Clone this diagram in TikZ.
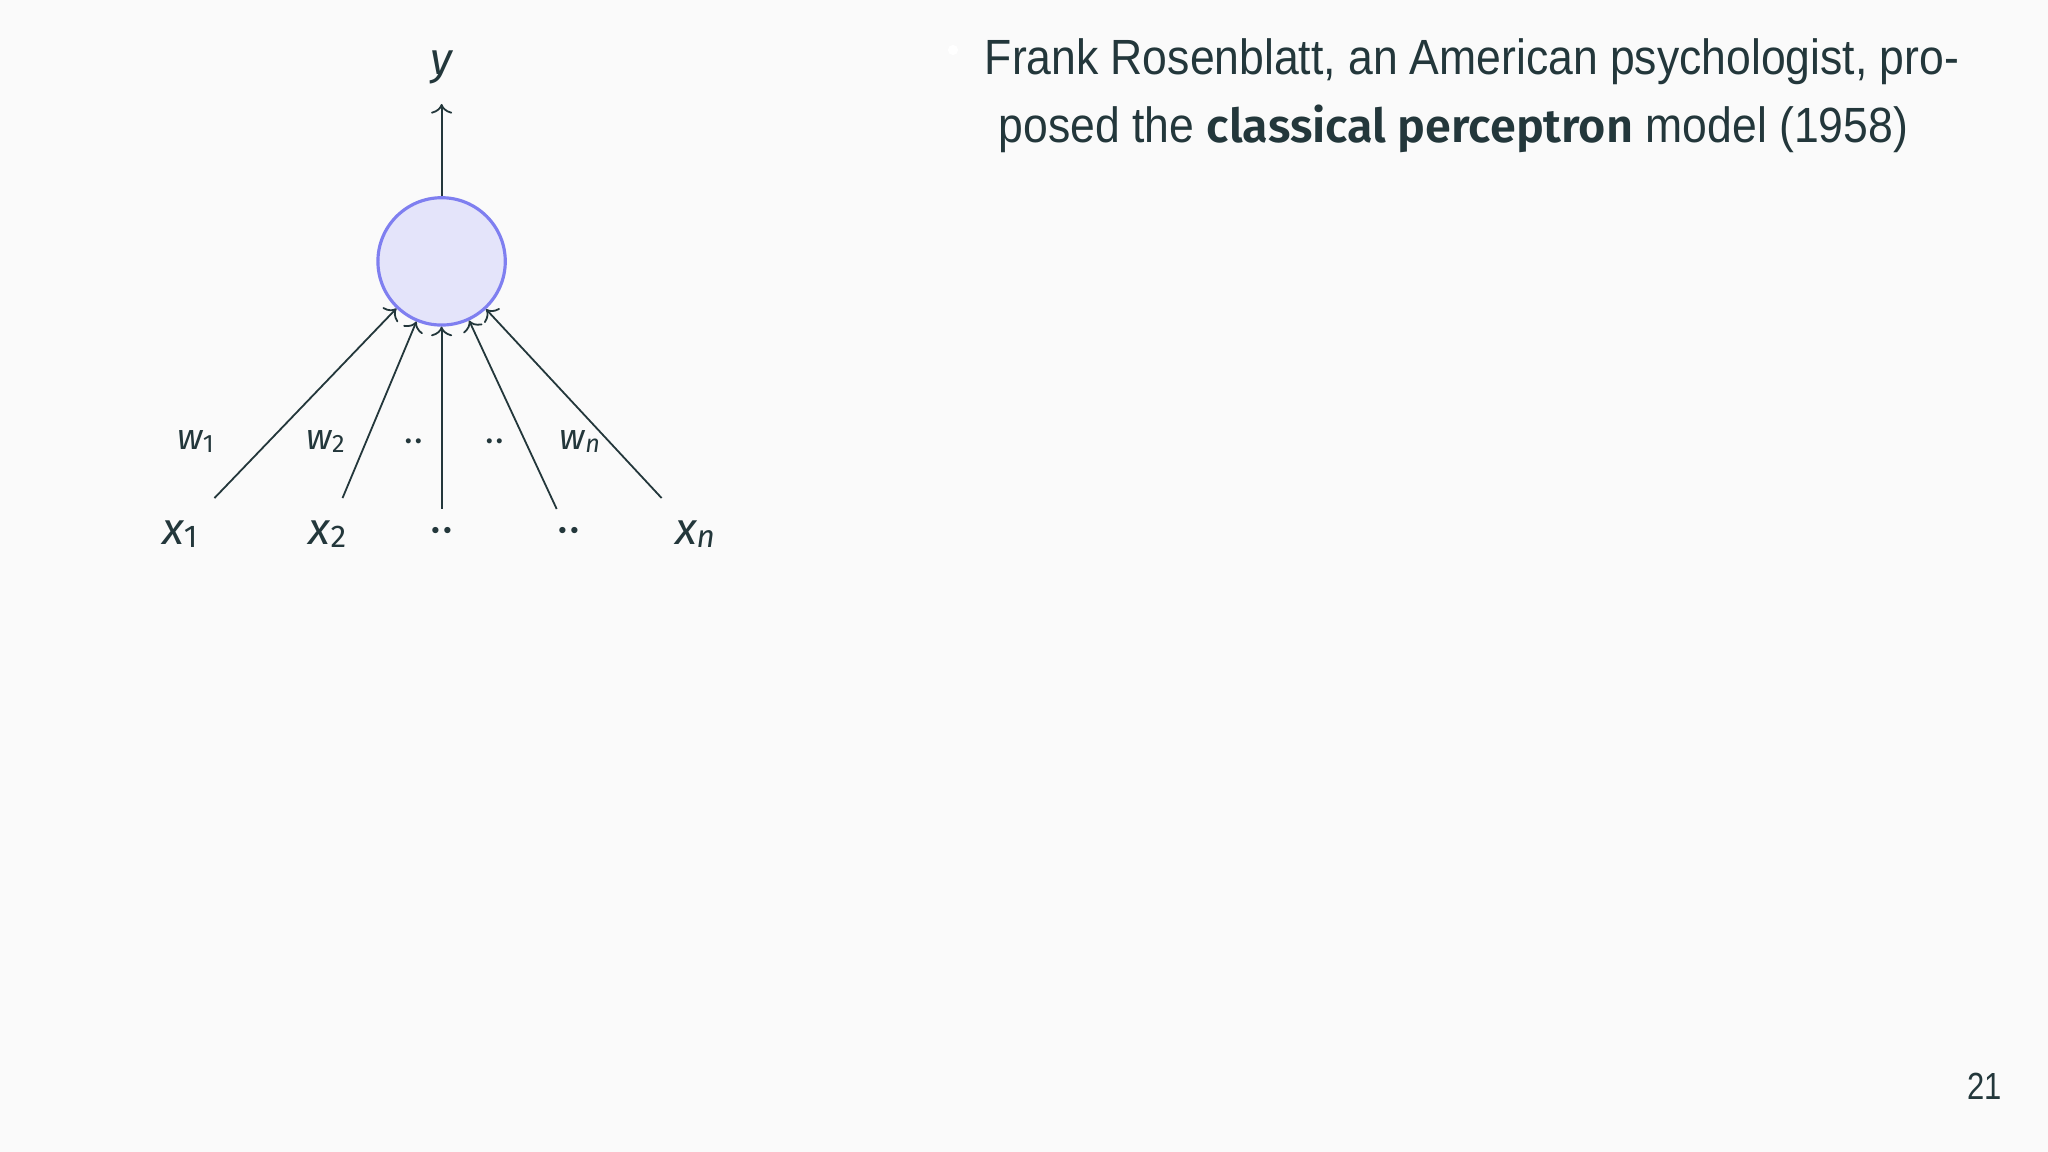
\documentclass[tikz,border=0pt]{standalone}
\usepackage{fontspec}
\usetikzlibrary{arrows.meta}
\setmainfont{Fira Sans}
\newfontfamily\bodyf{Liberation Sans}[FakeStretch=0.90]
\newfontfamily\numf{Liberation Sans}[FakeStretch=0.82]
\newfontfamily\symf{Fira Sans}
\newfontfamily\semif{Fira Sans SemiBold}
\definecolor{mDark}{HTML}{23373B}
\definecolor{bgc}{HTML}{FAFAFA}
\definecolor{nfill}{HTML}{E4E4FA}
\definecolor{ndraw}{HTML}{7F7FF0}
\newcommand\symb[4]{{\symf\fontsize{#1}{#1}\selectfont\itshape #3}\raisebox{-0.8pt}{\symf\fontsize{#2}{#2}\selectfont #4}}
\tikzset{
  neuron/.style={circle, draw=ndraw, fill=nfill, line width=0.7pt, minimum size=9.95mm, inner sep=0},
  inp/.style={inner sep=0, minimum height=5.47mm, minimum width=5.9mm, text=mDark},
  dotin/.style={inner sep=0, minimum height=4mm, text=mDark, font=\symf\fontsize{10}{10}\selectfont},
  wlab/.style={inner sep=0, text=mDark},
  wdots/.style={inner sep=0, text=mDark, font=\symf\fontsize{8}{8}\selectfont},
  conn/.style={-{To[length=0.75mm, width=1.65mm]}, draw=mDark, line width=0.4pt},
  body/.style={anchor=base west, inner sep=0, text=mDark, font=\bodyf\fontsize{11}{13}\selectfont}
}
\begin{document}
\begin{tikzpicture}[x=0.078125mm, y=-0.078125mm]
\fill[bgc] (0,0) rectangle (2048,1152);
\useasboundingbox (0,0) rectangle (2048,1152);
% neuron and output
\node[neuron] (n) at (441.6,261.4) {};
\node[anchor=south, inner sep=1.48mm, text=mDark] (y) at (441.6,104) {\symb{10}{7}{y}{}};
\draw[conn] (n) -- (y);
% inputs
\node[inp] (x1) at (180,534) {\symb{10}{7}{x}{1}};
\node[inp] (x2) at (327.5,534) {\symb{10}{7}{x}{2}};
\node[dotin] (d1) at (441.6,535.5) {\textperiodcentered\kern0.3pt\textperiodcentered};
\node[dotin] (d2) at (569,535.5) {\textperiodcentered\kern0.3pt\textperiodcentered};
\node[inp] (xn) at (695,534) {\symb{10}{7}{x}{\itshape n}};
\draw[conn] (x1) -- (n);
\draw[conn] (x2) -- (n);
\draw[conn] (d1) -- (n);
\draw[conn] (d2) -- (n);
\draw[conn] (xn) -- (n);
% weights
\node[wlab] (w1) at (195.5,441.5) {\symb{8}{5.6}{w}{1}};
\node[wlab] (w2) at (325.6,441.5) {\symb{8}{5.6}{w}{2}};
\node[wdots] (wd1) at (413.6,446) {\textperiodcentered\kern0.2pt\textperiodcentered};
\node[wdots] (wd2) at (495,446) {\textperiodcentered\kern0.2pt\textperiodcentered};
\node[wlab] (wn) at (580,441.5) {\symb{8}{5.6}{w}{\itshape n}};
% bullet text
\node[circle, fill=white, inner sep=0, minimum size=0.8mm] (bul) at (953,50) {};
\node[body] (l1) at (984,75) {\makebox[76.1mm][s]{Frank Rosenblatt, an American psychologist, pro-}};
\node[body] (l2) at (998,143) {posed the {\semif\fontsize{10.4}{13}\selectfont classical perceptron} model (1958)};
% page number
\node[anchor=base east, inner sep=0, text=mDark, font=\numf\fontsize{8.4}{10}\selectfont] (pg) at (2003,1100) {21};
\end{tikzpicture}
\end{document}
